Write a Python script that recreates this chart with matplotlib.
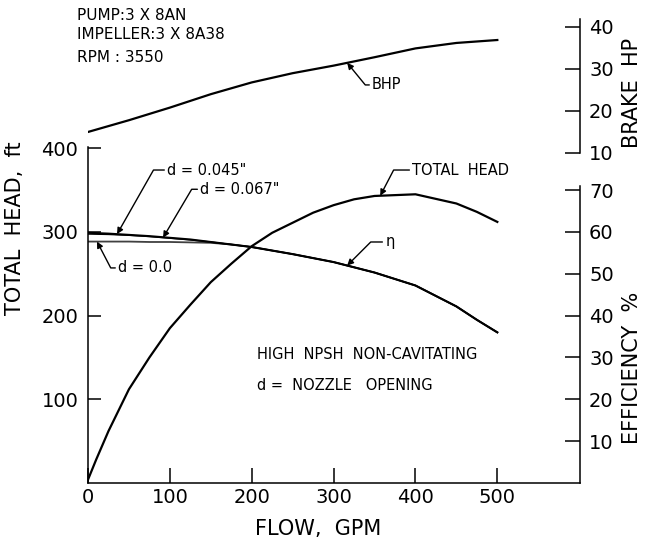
import numpy as np
import matplotlib
matplotlib.use("Agg")
import matplotlib.pyplot as plt

########################## Dados ##########################

# curva "TOTAL HEAD" (ft) x vazao (GPM)
flow_th = [0, 10, 25, 50, 75, 100, 125, 150, 175, 200, 225, 250, 275, 300, 325, 350, 400, 450, 475, 500]
total_head = [4, 28, 62, 112, 150, 185, 213, 240, 262, 283, 299, 311, 323, 332, 339, 343, 345, 334, 324, 312]

# curvas "eta" para cada abertura do bocal (mesma escala em ft)
flow_eta = [0, 25, 50, 75, 100, 125, 150, 175, 200, 250, 300, 350, 400, 450, 475, 500]
eta_tail = [273.5, 264, 251.5, 236, 211, 195, 180]
eta_d0 = [288.5, 288.5, 288.5, 288, 288, 287.5, 287, 285, 282] + eta_tail
eta_d045 = [299, 298, 296.5, 295, 293, 291, 288, 285, 282] + eta_tail
eta_d067 = [297.5, 297, 296, 294.5, 292.5, 290.5, 288, 285, 282] + eta_tail

# potencia de eixo (HP)
flow_bhp = [0, 50, 100, 150, 200, 250, 300, 350, 400, 450, 500]
bhp = [15.0, 17.8, 20.8, 24.0, 26.8, 29.0, 30.8, 32.8, 34.9, 36.2, 36.9]

x_ticks = [0, 100, 200, 300, 400, 500]
head_ticks = [100, 200, 300, 400]
eff_ticks = [10, 20, 30, 40, 50, 60, 70]
bhp_ticks = [10, 20, 30, 40]

############################## Figura ##############################

W, H = 645, 543
fig = plt.figure(figsize=(W / 100, H / 100), dpi=100)
fig.patch.set_facecolor("white")

def fx(px):
    return px / W

def fy(py):
    return 1 - py / H

ax = fig.add_axes([fx(88), fy(483), (580 - 88) / W, (483 - 6) / H])
ax.set_xlim(0, 601)
ax.set_ylim(0, 570)

eff = ax.twinx()
eff.set_ylim(0, 114)
hp = ax.twinx()
hp.set_ylim(-68.6, 45.0)

lw_sp = 1.1
for a in (ax, eff, hp):
    a.spines["top"].set_visible(False)
    for s in a.spines.values():
        s.set_linewidth(lw_sp)
ax.spines["right"].set_visible(False)
ax.spines["left"].set_bounds(0, 402)
for a in (eff, hp):
    a.spines["left"].set_visible(False)
    a.spines["bottom"].set_visible(False)
eff.spines["right"].set_bounds(0, 71)
hp.spines["right"].set_bounds(10, 42)

ax.set_xticks(x_ticks)
ax.set_yticks(head_ticks)
eff.set_yticks(eff_ticks)
hp.set_yticks(bhp_ticks)
ax.tick_params(axis="x", direction="in", length=10.8, width=1.1, labelsize=14, pad=3.5)
ax.tick_params(axis="y", direction="in", length=9.4, width=1.1, labelsize=14, pad=7)
for a in (eff, hp):
    a.tick_params(axis="y", direction="in", length=10.8, width=1.1, labelsize=14, pad=6.5)

# curvas
ax.plot(flow_th, total_head, color="k", lw=1.6)
ax.plot(flow_eta, eta_d0, color="0.25", lw=1.3)
ax.plot(flow_eta, eta_d067, color="k", lw=1.0)
ax.plot(flow_eta, eta_d045, color="k", lw=1.5)
hp.plot(flow_bhp, bhp, color="k", lw=1.6)

############################## Anotações ##############################

def seta(a, txt, tip_x, tip_y, tx, ty, angB):
    a.annotate(txt, xy=(tip_x, tip_y), xytext=(tx, ty), fontsize=10.5,
               ha="left", va="center",
               arrowprops=dict(arrowstyle="-|>", color="k", lw=1.0, mutation_scale=9,
                               shrinkA=0, shrinkB=0, relpos=(0, 0.5),
                               connectionstyle="angle,angleA=0,angleB=%g,rad=0" % angB))

seta(hp, "BHP", 316.6, np.interp(316.6, flow_bhp, bhp), 347, 26.2, 129.3)
seta(ax, "TOTAL  HEAD", 357, np.interp(357, flow_th, total_head), 396, 374, 62.5)
seta(ax, "η", 316.6, np.interp(316.6, flow_eta, eta_d0), 363, 288, 45)
seta(ax, 'd = 0.045"', 35.5, np.interp(35.5, flow_eta, eta_d045), 96.6, 374, 60.4)
seta(ax, 'd = 0.067"', 91.7, np.interp(91.7, flow_eta, eta_d067), 137, 351, 59.4)
seta(ax, "d = 0.0", 11, np.interp(11, flow_eta, eta_d0), 36.7, 257, -62.5)

ax.text(206.6, 153, "HIGH  NPSH  NON-CAVITATING", fontsize=10.5, ha="left", va="center")
ax.text(206.6, 116, "d =  NOZZLE   OPENING", fontsize=10.5, ha="left", va="center")

fig.text(fx(77), fy(15), "PUMP:3 X 8AN", fontsize=11, ha="left", va="center")
fig.text(fx(77), fy(35), "IMPELLER:3 X 8A38", fontsize=11, ha="left", va="center")
fig.text(fx(77), fy(58), "RPM : 3550", fontsize=11, ha="left", va="center")

# rótulos dos eixos
fig.text(fx(15), fy(228), "TOTAL  HEAD,  ft", fontsize=15, rotation=90, ha="center", va="center")
fig.text(fx(632), fy(93), "BRAKE  HP", fontsize=15, rotation=90, ha="center", va="center")
fig.text(fx(632), fy(368), "EFFICIENCY  %", fontsize=15, rotation=90, ha="center", va="center")
fig.text(fx(318), fy(529), "FLOW,  GPM", fontsize=15, ha="center", va="center")

fig.savefig("out.png", dpi=100)
